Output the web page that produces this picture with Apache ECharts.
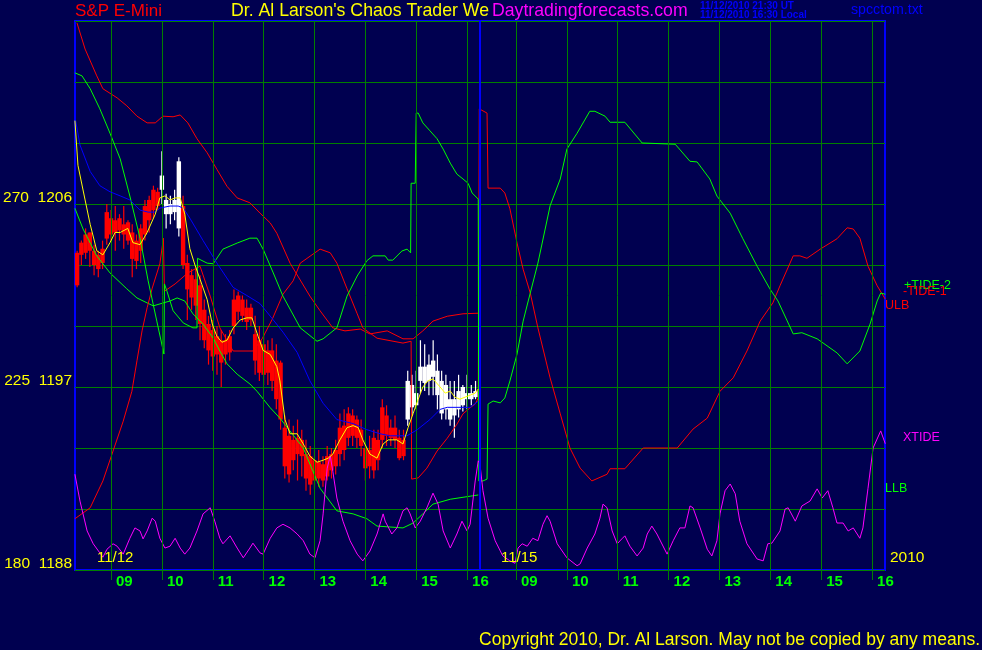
<!DOCTYPE html>
<html>
<head>
<meta charset="utf-8">
<script src="https://cdn.jsdelivr.net/npm/echarts@6/dist/echarts.min.js"></script>
<style>
html,body{margin:0;padding:0;background:#000050;}
#chart{width:982px;height:650px;}
</style>
</head>
<body>
<div id="chart"></div>
<script>
// ---------------- DATA ----------------
// Day-2 session is drawn right after day 1 on one continuous session axis
var DAY2_OFFSET = 7.9625;          // hours between the two session starts on the axis
var AXIS_MIN = 8.2917, AXIS_MAX = 24.2167;
var SEPARATOR = 16.25;             // end of 11/12 session
var hourTicks = [9, 10, 11, 12, 13, 14, 15, 16];

// price axis: 1188 .. 1215 step 3 ; labelled every 9 points with the degree scale
var priceMin = 1188, priceMax = 1215, priceStep = 3;
var degreeAtMin = 180, degreePerPoint = 5;

// 5-minute bars of 11/12, first bar at 08:20 : [open, high, low, close]
var barStart = 8 + 20 / 60, barStep = 5 / 60;
var bars = [
 [1203.6,1203.7,1201.9,1202.0],[1204.1,1204.2,1203.0,1203.5],[1204.5,1204.8,1203.3,1203.6],[1204.6,1204.6,1202.9,1203.7],
 [1203.7,1204.0,1202.5,1203.0],[1203.5,1203.7,1202.4,1202.8],[1203.8,1204.2,1202.8,1203.1],[1205.6,1206.0,1204.0,1204.3],
 [1205.3,1205.7,1204.2,1204.5],[1205.2,1205.9,1203.7,1204.6],[1205.3,1205.5,1204.2,1204.7],[1205.0,1205.9,1203.8,1204.5],
 [1205.1,1205.2,1204.0,1204.2],[1204.6,1205.0,1202.4,1203.3],[1204.2,1204.5,1202.8,1203.2],[1204.8,1205.0,1203.1,1203.7],
 [1205.9,1206.2,1204.2,1204.5],[1206.2,1206.4,1204.6,1205.2],[1206.7,1206.9,1205.3,1205.7],[1206.6,1206.8,1205.7,1205.9],
 [1206.7,1208.6,1206.0,1207.4],[1205.5,1206.5,1204.8,1206.2],[1205.5,1206.4,1205.0,1206.0],[1205.6,1206.7,1205.2,1206.2],
 [1204.8,1208.3,1204.4,1208.1],[1205.9,1206.4,1202.8,1203.0],[1203.1,1203.5,1200.3,1201.8],[1202.5,1202.8,1200.8,1201.4],
 [1202.3,1202.8,1200.3,1201.0],[1202.0,1202.5,1199.3,1200.1],[1200.8,1201.3,1198.9,1199.3],[1200.1,1200.5,1198.1,1198.8],
 [1199.8,1200.3,1197.8,1198.5],[1199.5,1200.0,1197.6,1198.6],[1199.3,1199.8,1197.0,1198.2],[1199.3,1199.6,1198.1,1198.6],
 [1199.5,1199.8,1198.3,1198.7],[1201.3,1201.8,1199.6,1200.0],[1201.5,1201.7,1200.3,1200.7],[1201.3,1201.5,1200.2,1200.5],
 [1200.9,1201.3,1199.8,1200.2],[1200.9,1201.1,1200.0,1200.3],[1199.6,1200.5,1197.6,1198.3],[1199.3,1200.0,1197.3,1197.7],
 [1199.1,1199.6,1197.1,1197.6],[1198.8,1199.3,1197.1,1197.7],[1198.8,1199.4,1196.8,1197.3],[1198.3,1199.1,1195.9,1196.4],
 [1198.2,1198.3,1194.9,1195.4],[1195.0,1195.6,1192.5,1193.1],[1194.6,1195.4,1192.3,1192.7],[1194.4,1195.1,1192.9,1193.4],
 [1194.5,1195.4,1192.4,1193.7],[1194.4,1194.9,1192.6,1193.6],[1193.7,1194.4,1191.9,1192.5],[1193.6,1194.1,1191.7,1192.2],
 [1193.4,1193.9,1192.0,1192.4],[1193.3,1193.9,1192.1,1192.5],[1193.2,1193.6,1192.1,1192.4],[1193.6,1194.1,1192.4,1192.6],
 [1193.7,1194.0,1192.5,1192.9],[1193.9,1194.4,1192.7,1193.1],[1195.0,1195.7,1193.1,1193.7],[1195.1,1195.9,1193.4,1193.9],
 [1195.7,1196.0,1194.1,1194.5],[1195.6,1195.9,1194.1,1194.6],[1195.4,1195.6,1194.0,1194.5],[1194.9,1195.4,1193.6,1194.1],
 [1194.0,1194.4,1192.4,1193.0],[1193.9,1194.6,1192.5,1193.1],[1194.5,1194.9,1192.5,1192.9],[1194.4,1194.9,1192.9,1193.4],
 [1196.0,1196.4,1194.0,1194.4],[1195.6,1196.1,1194.1,1194.6],[1195.0,1195.4,1194.1,1194.5],[1195.0,1195.6,1194.0,1194.4],
 [1194.5,1194.9,1193.4,1193.5],[1194.4,1194.9,1193.4,1193.6],[1195.4,1197.8,1195.1,1197.3],[1196.0,1197.6,1195.6,1197.1],
 [1196.1,1197.8,1195.9,1196.7],[1197.3,1199.3,1196.7,1198.0],[1197.2,1199.1,1196.8,1198.0],[1197.3,1198.6,1196.6,1198.1],
 [1197.5,1199.3,1196.6,1198.3],[1196.6,1198.6,1195.9,1197.8],[1195.7,1197.8,1195.4,1197.3],[1195.9,1197.6,1195.4,1197.1],
 [1195.4,1197.3,1195.1,1196.4],[1195.6,1197.3,1194.5,1196.4],[1195.9,1197.6,1195.5,1196.8],[1196.1,1197.1,1195.8,1197.0],
 [1196.4,1197.6,1195.9,1196.7],[1196.4,1197.1,1196.1,1196.7],[1196.5,1197.3,1196.4,1196.8]
];

// fast average (yellow) and slow average (blue), 11/12, [hour, price]
var fastAvg = [[8.29,1210.1],[8.35,1207.9],[8.49,1206.2],[8.59,1205.0],[8.72,1203.7],[8.84,1203.5],[8.98,1204.1],[9.08,1204.6],
 [9.18,1204.6],[9.33,1204.8],[9.43,1204.1],[9.57,1204.0],[9.71,1204.6],[9.87,1205.5],[9.96,1206.3],[10.06,1206.4],[10.16,1206.2],
 [10.26,1206.3],[10.36,1206.3],[10.45,1205.5],[10.55,1203.8],[10.65,1203.0],[10.75,1202.3],[10.89,1201.3],[10.99,1200.1],
 [11.08,1199.5],[11.18,1199.2],[11.28,1199.3],[11.40,1199.9],[11.54,1200.3],[11.67,1200.4],[11.77,1200.4],[11.89,1199.5],
 [11.99,1198.8],[12.13,1198.6],[12.26,1198.0],[12.32,1197.3],[12.42,1195.4],[12.52,1194.7],[12.66,1194.7],[12.78,1194.2],
 [12.91,1193.6],[13.05,1193.3],[13.17,1193.4],[13.27,1193.5],[13.36,1193.7],[13.50,1194.4],[13.64,1195.0],[13.76,1195.1],
 [13.86,1195.0],[13.95,1194.4],[14.09,1193.7],[14.23,1193.5],[14.35,1194.2],[14.45,1194.4],[14.62,1194.4],[14.74,1194.2],
 [14.84,1195.0],[14.94,1195.7],[15.04,1196.4],[15.13,1197.0],[15.23,1197.3],[15.33,1197.4],[15.47,1197.0],[15.57,1196.7],
 [15.67,1196.8],[15.76,1196.5],[15.86,1196.4],[15.96,1196.5],[16.06,1196.6],[16.16,1196.7],[16.22,1196.9]];
var slowAvg = [[8.29,1210.3],[8.39,1208.9],[8.59,1207.6],[8.78,1206.9],[8.98,1206.6],[9.18,1206.4],[9.37,1206.2],[9.57,1205.7],
 [9.73,1205.6],[9.87,1205.6],[9.96,1205.8],[10.16,1205.9],[10.32,1205.9],[10.42,1205.8],[10.55,1205.3],[10.81,1204.2],
 [11.08,1203.1],[11.40,1201.9],[11.67,1201.5],[11.93,1201.1],[12.19,1200.3],[12.38,1199.7],[12.66,1198.7],[12.91,1197.3],
 [13.17,1196.2],[13.44,1195.4],[13.76,1195.2],[14.03,1194.9],[14.29,1194.7],[14.49,1194.6],[14.82,1194.6],[15.02,1194.9],
 [15.27,1195.4],[15.47,1195.9],[15.61,1196.0],[16.06,1196.0],[16.22,1196.3]];

// oscillator scale 0..90 (hidden axis)
var ulb = [[8.33,89.7],[8.49,85.4],[8.72,81.0],[8.84,78.9],[9.12,77.4],[9.31,76.1],[9.51,74.4],[9.71,73.3],[9.87,73.3],
 [10.02,74.4],[10.22,74.3],[10.36,74.6],[10.51,73.3],[10.69,70.7],[10.89,68.4],[11.08,65.7],[11.28,62.9],[11.48,61.0],
 [11.73,60.2],[11.93,58.5],[12.13,56.9],[12.26,55.2],[12.52,50.3],[12.91,44.9],[13.11,42.5],[13.36,39.7],[13.60,39.2],
 [13.90,39.5],[14.09,38.7],[14.43,39.2],[14.74,37.9],[14.94,37.9],[15.13,39.2],[15.33,40.8],[15.61,41.6],[15.92,42.0],[16.22,42.1]];
var llb = [[8.29,59.3],[8.45,55.9],[8.72,51.5],[8.98,48.7],[9.31,46.1],[9.51,44.6],[9.83,43.3],[10.16,44.1],[10.30,44.6],
 [10.45,44.1],[10.61,42.0],[10.81,40.3],[11.01,38.0],[11.14,35.9],[11.28,33.8],[11.48,32.1],[11.73,30.5],[11.87,29.3],
 [12.13,26.6],[12.32,24.9],[12.78,20.0],[13.11,13.4],[13.44,9.7],[13.76,9.2],[14.03,8.4],[14.23,7.2],[14.74,6.9],
 [14.94,7.7],[15.13,9.2],[15.33,10.8],[15.67,11.6],[16.06,12.1],[16.22,12.3]];

var tide2Day1 = [[8.29,81.5],[8.43,81.0],[8.59,78.9],[8.78,75.6],[8.98,71.6],[9.18,67.4],[9.37,61.3],[9.57,54.4],[9.73,47.4],
 [9.90,40.8],[10.04,35.4],[10.05,46.9],[10.10,45.7],[10.22,42.5],[10.42,40.5],[10.61,39.7],[10.69,39.7],[10.70,51.1],
 [10.89,50.3],[11.01,50.2],[11.20,52.6],[11.48,53.6],[11.73,54.4],[11.87,54.4],[11.99,52.6],[12.19,48.7],[12.38,44.9],
 [12.72,39.7],[13.05,37.5],[13.17,37.9],[13.44,39.7],[13.64,44.9],[13.84,48.2],[14.03,50.7],[14.15,51.5],[14.39,51.5],
 [14.45,50.8],[14.54,50.8],[14.72,52.3],[14.82,52.6],[14.89,52.0],[14.90,63.4],[14.98,63.4],[15.00,74.9],[15.04,74.9],
 [15.13,73.3],[15.27,72.0],[15.41,70.7],[15.53,69.0],[15.67,66.7],[15.80,64.9],[15.92,64.1],[16.02,63.4],[16.10,61.8],
 [16.22,60.8],[16.23,14.6]];
var tide2Day2 = [[8.35,14.6],[8.43,14.9],[8.45,27.2],[8.55,27.7],[8.69,27.4],[8.78,28.2],[8.88,31.0],[9.02,35.4],[9.14,40.8],
 [9.24,44.1],[9.43,50.3],[9.67,59.7],[9.87,64.1],[10.00,69.0],[10.20,71.6],[10.45,75.2],[10.55,75.2],[10.75,74.4],[10.85,73.4],
 [11.14,73.4],[11.48,70.0],[12.13,69.8],[12.42,67.0],[12.56,66.9],[12.81,64.1],[12.95,61.3],[13.21,58.5],[13.46,54.3],
 [13.74,49.8],[13.99,46.1],[14.15,44.1],[14.45,38.7],[14.62,38.9],[14.92,37.9],[15.31,35.6],[15.51,33.8],[15.76,35.9],
 [15.96,40.3],[16.10,44.1],[16.17,45.4],[16.26,45.2]];

var tide1Day1 = [[8.29,8.4],[8.59,10.2],[8.84,14.6],[9.04,19.5],[9.24,24.4],[9.41,29.3],[9.51,34.3],[9.61,39.2],[9.71,43.0],
 [9.81,46.2],[9.96,50.2],[10.03,54.4],[10.05,45.7],[10.26,46.9],[10.51,48.7],[10.75,49.8],[10.95,44.9],[11.14,39.7],
 [11.40,35.9],[11.79,35.9],[11.97,37.9],[12.17,41.1],[12.38,45.2],[12.58,47.4],[12.72,50.3],[13.11,52.6],[13.31,52.0],
 [13.44,50.3],[13.64,46.1],[13.84,42.0],[13.95,39.7],[14.23,38.0],[14.74,37.2],[14.90,37.5],[14.91,14.9],[15.04,15.1],
 [15.21,16.7],[15.41,19.5],[15.61,21.6],[15.80,23.9],[15.92,25.6],[16.06,26.6],[16.16,27.2],[16.22,28.2],[16.24,75.6]];
var tide1Day2 = [[8.29,75.6],[8.43,74.9],[8.45,62.6],[8.69,62.6],[8.78,61.8],[8.88,59.2],[9.02,53.6],[9.14,49.3],[9.28,45.4],
 [9.43,39.7],[9.67,31.5],[9.87,25.6],[10.06,20.0],[10.26,16.7],[10.49,14.6],[10.79,15.7],[10.85,16.6],[11.14,16.6],
 [11.50,20.0],[12.17,20.0],[12.48,23.1],[12.76,24.9],[13.01,29.3],[13.27,31.5],[13.54,35.9],[13.80,40.8],[14.05,43.8],
 [14.19,46.6],[14.45,51.5],[14.58,51.5],[14.72,51.1],[14.98,52.6],[15.31,54.3],[15.51,56.1],[15.63,55.9],[15.76,54.4],
 [15.92,49.8],[16.10,46.6],[16.26,44.4]];

var xtideDay1 = [[8.29,15.7],[8.39,11.3],[8.53,6.4],[8.65,4.3],[8.78,2.8],[8.84,2.1],[8.92,3.4],[9.04,4.3],[9.12,3.9],[9.24,2.6],
 [9.37,5.2],[9.47,6.9],[9.57,6.4],[9.63,5.1],[9.71,6.4],[9.81,8.5],[9.87,8.0],[9.96,5.2],[10.06,3.6],[10.16,3.9],[10.26,5.2],
 [10.36,3.6],[10.45,2.6],[10.55,3.6],[10.69,6.4],[10.81,9.2],[10.95,10.2],[11.04,8.0],[11.14,5.2],[11.20,4.3],[11.34,5.6],
 [11.48,3.6],[11.60,2.0],[11.73,3.6],[11.79,4.4],[11.93,2.8],[11.99,2.6],[12.13,5.2],[12.26,6.9],[12.38,7.5],[12.52,6.9],
 [12.66,5.9],[12.78,4.8],[12.91,2.6],[13.01,2.0],[13.11,4.8],[13.17,9.2],[13.25,16.7],[13.31,18.7],[13.36,16.2],[13.44,11.8],
 [13.56,8.0],[13.70,4.8],[13.84,2.6],[13.95,1.5],[14.09,3.1],[14.23,5.9],[14.35,9.2],[14.39,8.0],[14.52,5.9],[14.62,6.9],
 [14.74,9.7],[14.82,10.2],[14.88,9.2],[14.98,6.9],[15.08,8.0],[15.21,10.2],[15.33,12.6],[15.43,10.8],[15.53,6.4],[15.67,3.6],
 [15.80,5.9],[15.90,8.0],[16.00,6.4],[16.06,7.5],[16.16,14.6],[16.22,17.9]];
var xtideDay2 = [[8.29,17.4],[8.35,13.0],[8.45,8.5],[8.59,4.8],[8.74,2.3],[8.88,1.5],[8.98,1.1],[9.04,3.6],[9.12,4.3],[9.22,3.9],
 [9.33,5.2],[9.43,4.8],[9.53,7.5],[9.61,8.9],[9.67,8.0],[9.81,4.3],[10.00,2.0],[10.20,0.7],[10.26,1.0],[10.40,3.6],[10.55,5.9],
 [10.65,8.5],[10.71,10.8],[10.79,10.2],[10.89,6.4],[10.99,4.3],[11.08,5.1],[11.14,5.6],[11.24,3.9],[11.38,2.3],[11.50,3.6],
 [11.58,5.9],[11.67,7.2],[11.77,5.9],[11.97,2.6],[12.09,4.8],[12.22,6.9],[12.32,6.9],[12.42,10.5],[12.48,10.2],[12.62,6.9],
 [12.76,3.4],[12.85,2.3],[12.95,4.8],[13.01,9.2],[13.11,13.0],[13.21,14.1],[13.31,12.5],[13.40,8.0],[13.54,4.3],[13.74,1.8],
 [13.86,1.5],[13.95,4.3],[14.03,4.4],[14.19,6.4],[14.29,10.0],[14.35,10.2],[14.49,8.0],[14.62,10.5],[14.78,11.3],[14.92,13.3],
 [15.02,11.8],[15.13,13.0],[15.23,10.2],[15.31,7.7],[15.43,7.7],[15.53,6.4],[15.63,6.9],[15.76,5.2],[15.82,6.9],[15.92,13.4],
 [16.02,20.0],[16.17,22.8],[16.26,20.7]];

// ---------------- CHART ----------------
function day2(arr){ return arr.map(function(p){ return [p[0] + DAY2_OFFSET, p[1]]; }); }
var tickValues = hourTicks.concat(hourTicks.map(function(h){ return h + DAY2_OFFSET; }));
var barData = bars.map(function(b, i){ return [barStart + i * barStep, b[0], b[1], b[2], b[3]]; });

var ARIAL = "'Liberation Sans',Arial,sans-serif";
var GRID_GREEN = '#008000';

function lineSeries(name, data, color, yIdx, z){
  return {name:name, type:'line', data:data, xAxisIndex:0, yAxisIndex:yIdx, showSymbol:false, symbol:'none',
    lineStyle:{color:color, width:1}, z:z || 5, animation:false, silent:true};
}
function txt(text, x, y, color, font, align){
  return {type:'text', x:x, y:y, silent:true, z:100,
    style:{text:text, fill:color, font:font, align:align||'left', textAlign:align||'left',
      verticalAlign:'middle', textVerticalAlign:'middle'}};
}

var chart = echarts.init(document.getElementById('chart'), null, {renderer:'canvas'});
chart.setOption({
  backgroundColor:'#000050',
  animation:false,
  grid:{left:75, top:21, width:810, height:549, containLabel:false, outerBoundsMode:'none',
    show:true, borderColor:'#0000ff', borderWidth:2, backgroundColor:'transparent'},
  xAxis:{type:'value', min:AXIS_MIN, max:AXIS_MAX,
    axisLine:{show:false},
    splitLine:{show:false},
    axisTick:{show:true, length:10, customValues:tickValues, lineStyle:{color:GRID_GREEN, width:1}},
    axisLabel:{show:true, customValues:tickValues, color:'#00ff00', fontFamily:ARIAL, fontSize:15, fontWeight:'bold',
      align:'left', margin:4, padding:[0,0,0,5],
      formatter:function(v){ var h = v > SEPARATOR ? v - DAY2_OFFSET : v; h = Math.round(h); return (h < 10 ? '0' : '') + h; }}
  },
  yAxis:[
    {type:'value', min:priceMin, max:priceMax, interval:priceStep,
      axisLine:{show:false}, axisTick:{show:false},
      splitLine:{show:true, lineStyle:{color:GRID_GREEN, width:1}},
      axisLabel:{color:'#ffff00', fontFamily:ARIAL, fontSize:15.5, margin:3, verticalAlign:'bottom', lineHeight:12,
        formatter:function(v){ var k = Math.round(v); if ((k - priceMin) % 9 === 0 && k < priceMax) { return (degreeAtMin + (k - priceMin) * degreePerPoint) + '  ' + k; } return ''; }}
    },
    {type:'value', min:0, max:90, show:false, splitLine:{show:false}}
  ],
  series:[
    {type:'line', data:[], z:1, silent:true,
      markLine:{symbol:'none', silent:true, animation:false, label:{show:false},
        lineStyle:{color:GRID_GREEN, width:1, type:'solid'},
        data:tickValues.map(function(v){ return {xAxis:v}; }).concat([{xAxis:SEPARATOR, lineStyle:{color:'#0000ff', width:2, type:'solid'}}])}
    },
    {type:'custom', data:barData, z:3, silent:true, animation:false,
      renderItem:function(params, api){
        var t = api.value(0), o = api.value(1), h = api.value(2), l = api.value(3), c = api.value(4);
        var pO = api.coord([t, o]), pC = api.coord([t, c]), pH = api.coord([t, h]), pL = api.coord([t, l]);
        var col = c >= o ? '#ffffff' : '#ff0000';
        var top = Math.min(pO[1], pC[1]), ht = Math.max(1, Math.abs(pC[1] - pO[1]));
        return {type:'group', children:[
          {type:'line', shape:{x1:pH[0], y1:pH[1], x2:pL[0], y2:pL[1]}, style:{stroke:col, lineWidth:1.2}},
          {type:'rect', shape:{x:pO[0] - 2.2, y:top, width:4.4, height:ht}, style:{fill:col}}
        ]};
      }
    },
    lineSeries('ULB', ulb, '#ff0000', 1, 4),
    lineSeries('LLB', llb, '#00ff00', 1, 4),
    lineSeries('-TIDE-1', tide1Day1.concat(day2(tide1Day2)), '#ff0000', 1, 4),
    lineSeries('+TIDE-2', tide2Day1.concat(day2(tide2Day2)), '#00ff00', 1, 4),
    lineSeries('XTIDE', xtideDay1.concat(day2(xtideDay2)), '#ff00ff', 1, 4),
    lineSeries('slow', slowAvg, '#0000ff', 0, 6),
    lineSeries('fast', fastAvg, '#ffff00', 0, 7)
  ],
  graphic:[
    txt('S&P E-Mini', 75, 11, '#ff0000', '17px ' + ARIAL),
    txt("Dr. Al Larson's Chaos Trader We", 231, 11, '#ffff00', '17.7px ' + ARIAL),
    txt('Daytradingforecasts.com', 492, 11, '#ff00ff', '17.7px ' + ARIAL),
    txt('11/12/2010 21:30 UT', 700, 6, '#0000ff', 'bold 10px ' + ARIAL),
    txt('11/12/2010 16:30 Local', 700, 15, '#0000ff', 'bold 10px ' + ARIAL),
    txt('spcctom.txt', 851, 10, '#0000ff', '14.2px ' + ARIAL),
    txt('11/12', 97, 558, '#ffff00', '15px ' + ARIAL),
    txt('11/15', 501, 558, '#ffff00', '15px ' + ARIAL),
    txt('2010', 890, 558, '#ffff00', '15.5px ' + ARIAL),
    txt('+TIDE-2', 904, 286, '#00ff00', '12.5px ' + ARIAL),
    txt('-TIDE-1', 903, 292, '#ff0000', '12.5px ' + ARIAL),
    txt('ULB', 885, 305.5, '#ff0000', '12.5px ' + ARIAL),
    txt('XTIDE', 903, 437.5, '#ff00ff', '12.5px ' + ARIAL),
    txt('LLB', 885, 488.5, '#00ff00', '12.5px ' + ARIAL),
    txt('Copyright 2010, Dr. Al Larson. May not be copied by any means.', 980, 640, '#ffff00', '17.5px ' + ARIAL, 'right')
  ]
});
</script>
</body>
</html>
